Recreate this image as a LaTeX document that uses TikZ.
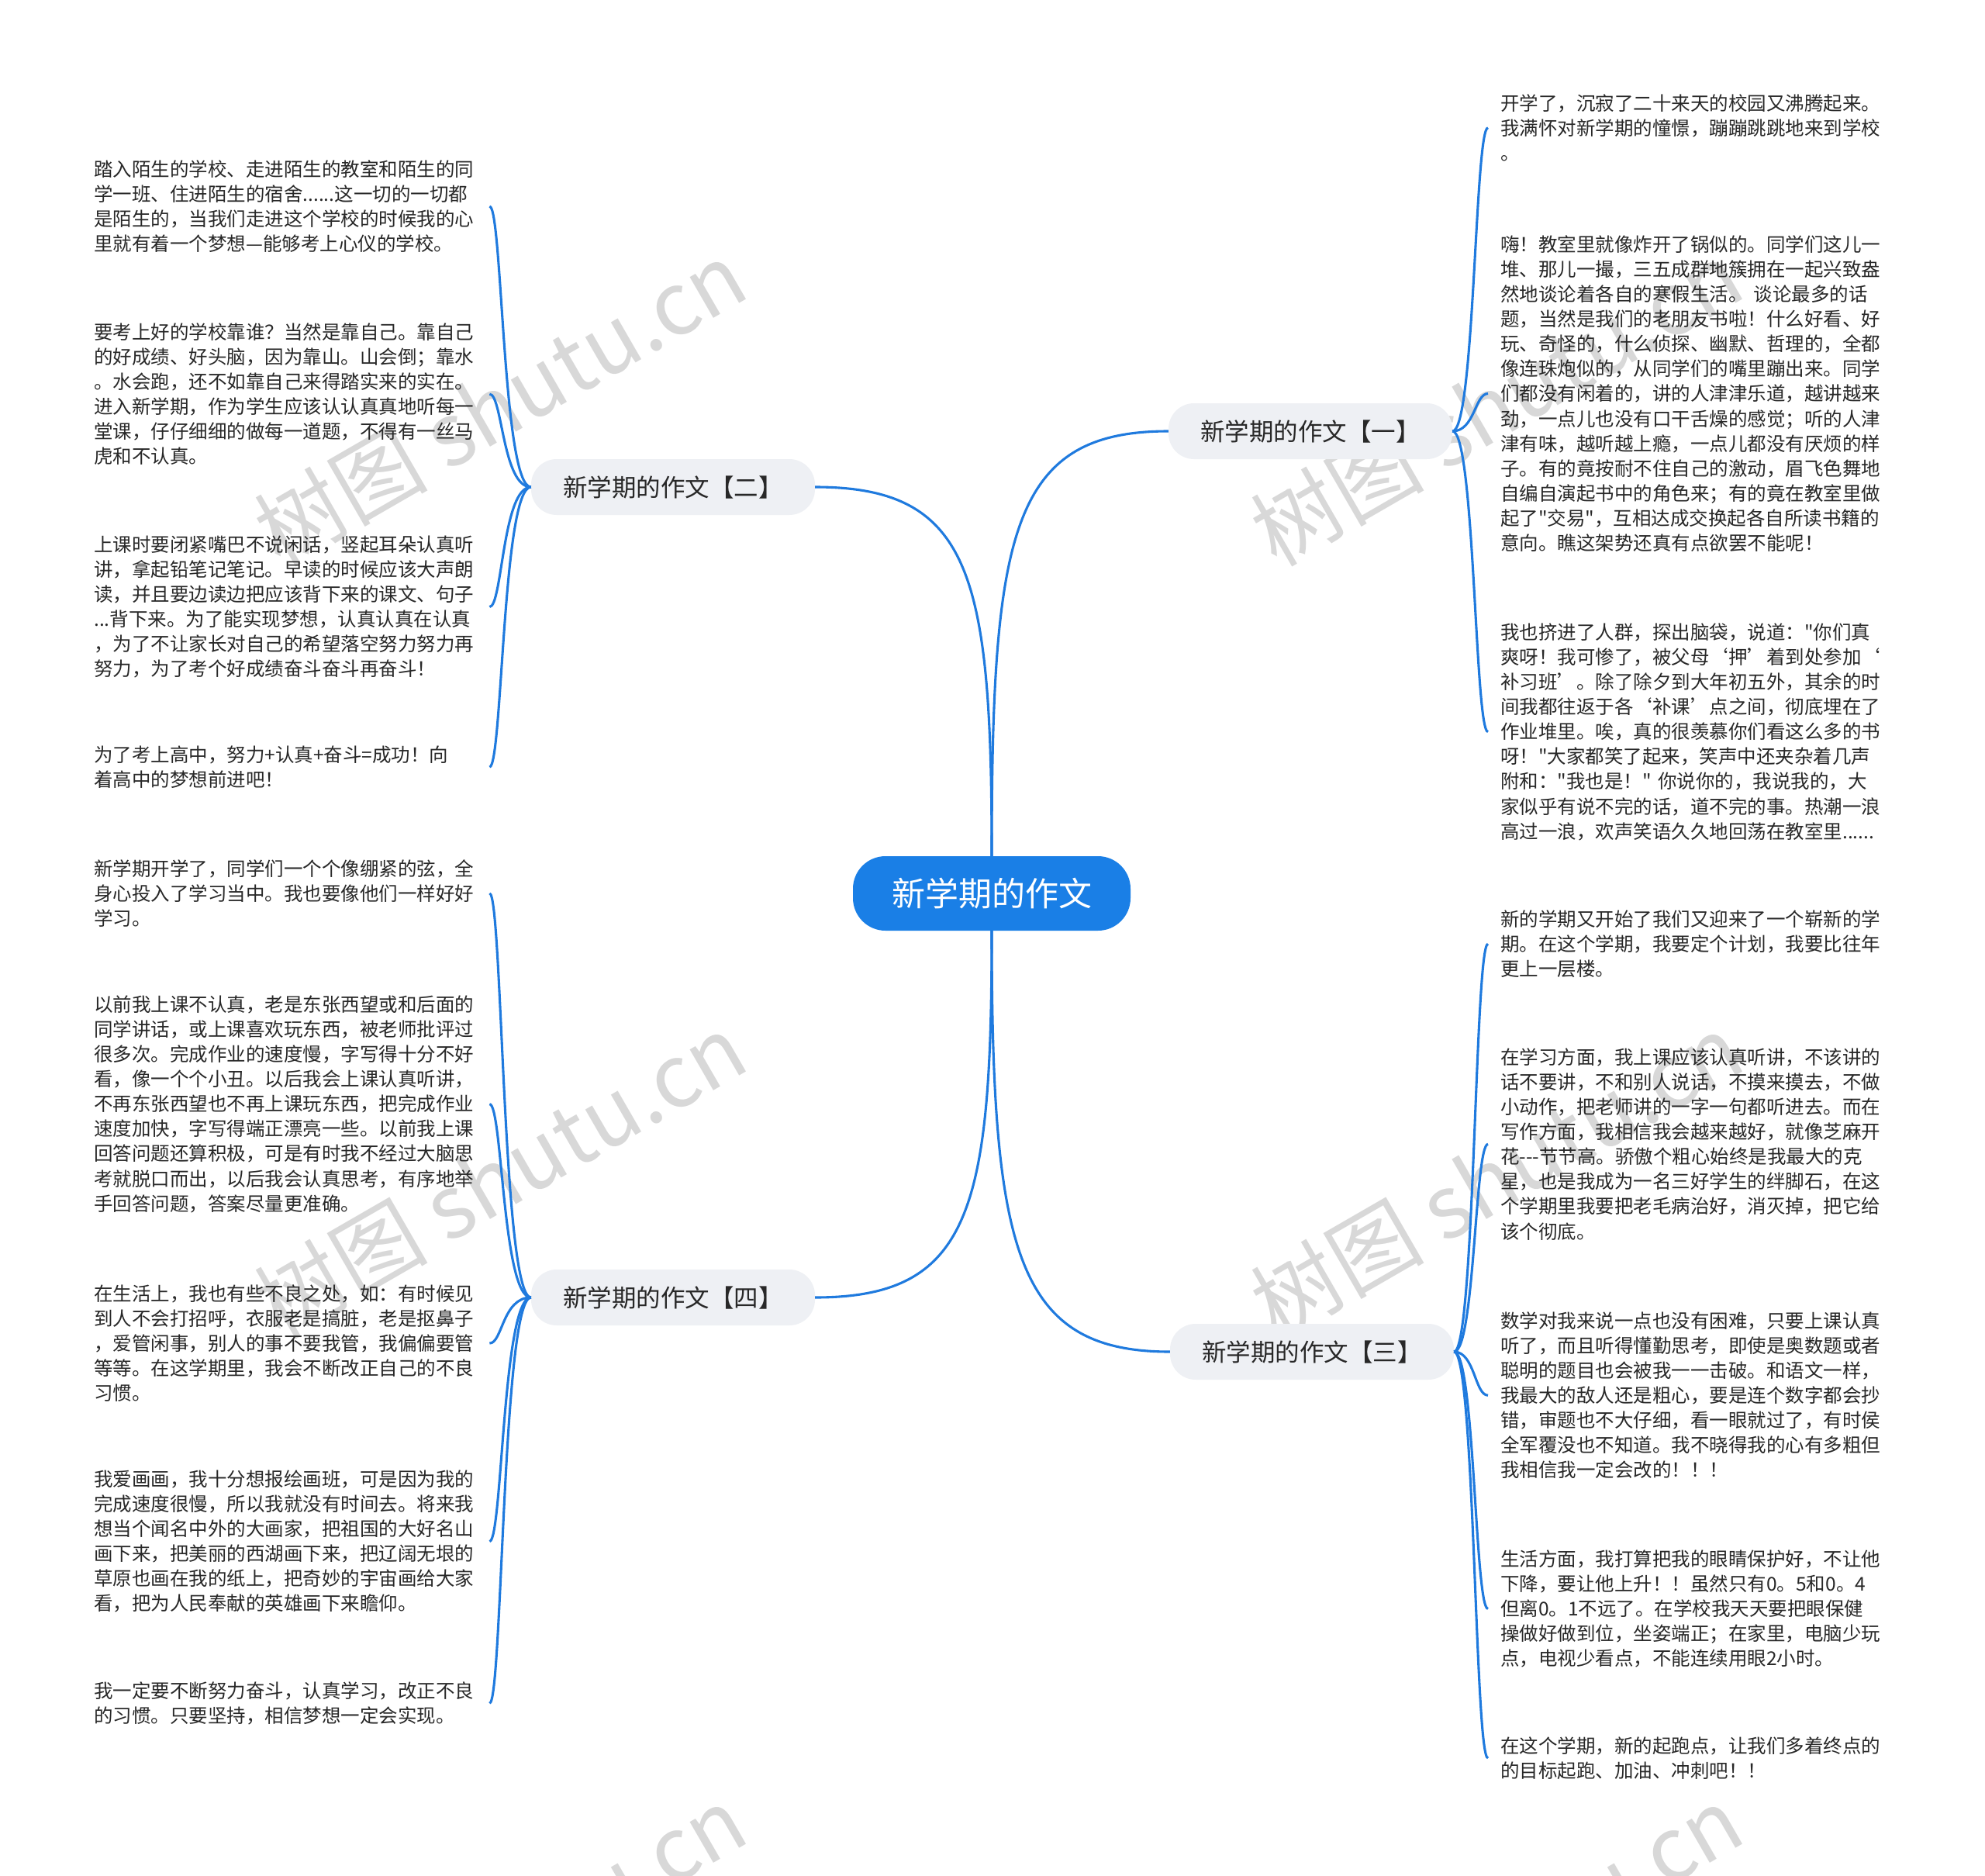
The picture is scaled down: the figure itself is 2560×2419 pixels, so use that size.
\documentclass[tikz,border=0pt]{standalone}
\usepackage{fontspec}
\newfontfamily\cjk{Noto Sans CJK SC}
\definecolor{mainblue}{RGB}{26,127,230}
\definecolor{linkblue}{RGB}{31,122,222}
\definecolor{branchfill}{RGB}{238,240,244}
\definecolor{txtc}{RGB}{40,40,40}
\definecolor{wmc}{RGB}{216,216,216}
\begin{document}
\begin{tikzpicture}[x=1pt,y=-1pt,
  rootbox/.style={rectangle, rounded corners=42pt, fill=mainblue, text=white, font=\cjk\fontsize{43pt}{50pt}\selectfont, minimum width=358pt, minimum height=96pt, inner sep=0pt},
  branchbox/.style={rectangle, rounded corners=33pt, fill=branchfill, text=txtc, font=\cjk\fontsize{31.5pt}{36pt}\selectfont, minimum width=366pt, minimum height=72pt, inner sep=0pt},
  leafbox/.style={inner sep=0pt, text=txtc, font=\cjk\fontsize{24.5pt}{32.1pt}\selectfont, align=left, anchor=base west},
  leafL/.style={leafbox, text width=490pt},
  leafR/.style={leafbox, text width=500pt},
  conn/.style={draw=linkblue, line width=3.1pt},
  wmark/.style={text=wmc, font=\cjk\fontsize{112pt}{120pt}\selectfont, rotate=30, inner sep=0pt}
]
\fill[white] (0,0) rectangle (2560,2419);
\useasboundingbox (0,0) rectangle (2560,2419);

% watermarks
\node[wmark] (W1) at (645,520) {树图 shutu.cn};
\node[wmark] (W2) at (645,1516) {树图 shutu.cn};
\node[wmark] (W3) at (1930,520) {树图 shutu.cn};
\node[wmark] (W4) at (1930,1516) {树图 shutu.cn};
\node[wmark] (W5) at (645,2512) {树图 shutu.cn};
\node[wmark] (W6) at (1930,2512) {树图 shutu.cn};

% central and branch nodes
\node[rootbox] (C) at (1279,1152) {新学期的作文};
\node[branchbox] (B1) at (1690,556) {新学期的作文【一】};
\node[branchbox] (B2) at (868,628) {新学期的作文【二】};
\node[branchbox] (B3) at (1692,1743) {新学期的作文【三】};
\node[branchbox] (B4) at (868,1673) {新学期的作文【四】};

% left leaves
\node[leafL] (L1) at (121,227.3) {踏入陌生的学校、走进陌生的教室和陌生的同\\
学一班、住进陌生的宿舍......这一切的一切都\\
是陌生的，当我们走进这个学校的时候我的心\\
里就有着一个梦想—能够考上心仪的学校。};
\node[leafL] (L2) at (121,437.3) {要考上好的学校靠谁？当然是靠自己。靠自己\\
的好成绩、好头脑，因为靠山。山会倒；靠水\\
。水会跑，还不如靠自己来得踏实来的实在。\\
进入新学期，作为学生应该认认真真地听每一\\
堂课，仔仔细细的做每一道题，不得有一丝马\\
虎和不认真。};
\node[leafL] (L3) at (121,711.3) {上课时要闭紧嘴巴不说闲话，竖起耳朵认真听\\
讲，拿起铅笔记笔记。早读的时候应该大声朗\\
读，并且要边读边把应该背下来的课文、句子\\
...背下来。为了能实现梦想，认真认真在认真\\
，为了不让家长对自己的希望落空努力努力再\\
努力，为了考个好成绩奋斗奋斗再奋斗！};
\node[leafL] (L4) at (121,982.3) {为了考上高中，努力+认真+奋斗=成功！向\\
着高中的梦想前进吧！};
\node[leafL] (L5) at (121,1129.3) {新学期开学了，同学们一个个像绷紧的弦，全\\
身心投入了学习当中。我也要像他们一样好好\\
学习。};
\node[leafL] (L6) at (121,1304.3) {以前我上课不认真，老是东张西望或和后面的\\
同学讲话，或上课喜欢玩东西，被老师批评过\\
很多次。完成作业的速度慢，字写得十分不好\\
看，像一个个小丑。以后我会上课认真听讲，\\
不再东张西望也不再上课玩东西，把完成作业\\
速度加快，字写得端正漂亮一些。以前我上课\\
回答问题还算积极，可是有时我不经过大脑思\\
考就脱口而出，以后我会认真思考，有序地举\\
手回答问题，答案尽量更准确。};
\node[leafL] (L7) at (121,1677.3) {在生活上，我也有些不良之处，如：有时候见\\
到人不会打招呼，衣服老是搞脏，老是抠鼻子\\
，爱管闲事，别人的事不要我管，我偏偏要管\\
等等。在这学期里，我会不断改正自己的不良\\
习惯。};
\node[leafL] (L8) at (121,1916.3) {我爱画画，我十分想报绘画班，可是因为我的\\
完成速度很慢，所以我就没有时间去。将来我\\
想当个闻名中外的大画家，把祖国的大好名山\\
画下来，把美丽的西湖画下来，把辽阔无垠的\\
草原也画在我的纸上，把奇妙的宇宙画给大家\\
看，把为人民奉献的英雄画下来瞻仰。};
\node[leafL] (L9) at (121,2189.3) {我一定要不断努力奋斗，认真学习，改正不良\\
的习惯。只要坚持，相信梦想一定会实现。};

% right leaves
\node[leafR] (R1) at (1935,142.3) {开学了，沉寂了二十来天的校园又沸腾起来。\\
我满怀对新学期的憧憬，蹦蹦跳跳地来到学校\\
。};
\node[leafR] (R2) at (1935,324.3) {嗨！教室里就像炸开了锅似的。同学们这儿一\\
堆、那儿一撮，三五成群地簇拥在一起兴致盎\\
然地谈论着各自的寒假生活。 谈论最多的话\\
题，当然是我们的老朋友书啦！什么好看、好\\
玩、奇怪的，什么侦探、幽默、哲理的，全都\\
像连珠炮似的，从同学们的嘴里蹦出来。同学\\
们都没有闲着的，讲的人津津乐道，越讲越来\\
劲，一点儿也没有口干舌燥的感觉；听的人津\\
津有味，越听越上瘾，一点儿都没有厌烦的样\\
子。有的竟按耐不住自己的激动，眉飞色舞地\\
自编自演起书中的角色来；有的竟在教室里做\\
起了"交易"，互相达成交换起各自所读书籍的\\
意向。瞧这架势还真有点欲罢不能呢！};
\node[leafR] (R3) at (1935,824.3) {我也挤进了人群，探出脑袋，说道："你们真\\
爽呀！我可惨了，被父母‘押’着到处参加‘\\
补习班’。除了除夕到大年初五外，其余的时\\
间我都往返于各‘补课’点之间，彻底埋在了\\
作业堆里。唉，真的很羡慕你们看这么多的书\\
呀！"大家都笑了起来，笑声中还夹杂着几声\\
附和："我也是！" 你说你的，我说我的，大\\
家似乎有说不完的话，道不完的事。热潮一浪\\
高过一浪，欢声笑语久久地回荡在教室里......};
\node[leafR] (R4) at (1935,1194.3) {新的学期又开始了我们又迎来了一个崭新的学\\
期。在这个学期，我要定个计划，我要比往年\\
更上一层楼。};
\node[leafR] (R5) at (1935,1372.3) {在学习方面，我上课应该认真听讲，不该讲的\\
话不要讲，不和别人说话，不摸来摸去，不做\\
小动作，把老师讲的一字一句都听进去。而在\\
写作方面，我相信我会越来越好，就像芝麻开\\
花-{}-{}-节节高。骄傲个粗心始终是我最大的克\\
星，也是我成为一名三好学生的绊脚石，在这\\
个学期里我要把老毛病治好，消灭掉，把它给\\
该个彻底。};
\node[leafR] (R6) at (1935,1712.3) {数学对我来说一点也没有困难，只要上课认真\\
听了，而且听得懂勤思考，即使是奥数题或者\\
聪明的题目也会被我一一击破。和语文一样，\\
我最大的敌人还是粗心，要是连个数字都会抄\\
错，审题也不大仔细，看一眼就过了，有时侯\\
全军覆没也不知道。我不晓得我的心有多粗但\\
我相信我一定会改的！！！};
\node[leafR] (R7) at (1935,2019.3) {生活方面，我打算把我的眼睛保护好，不让他\\
下降，要让他上升！！虽然只有0。5和0。4\\
但离0。1不远了。在学校我天天要把眼保健\\
操做好做到位，坐姿端正；在家里，电脑少玩\\
点，电视少看点，不能连续用眼2小时。};
\node[leafR] (R8) at (1935,2260.3) {在这个学期，新的起跑点，让我们多着终点的\\
的目标起跑、加油、冲刺吧！！};

% central connectors
\draw[conn] (C.north) .. controls ([yshift=418pt]C.north) and ([xshift=-203pt]B1.west) .. (B1.west);
\draw[conn] (C.north) .. controls ([yshift=362pt]C.north) and ([xshift=202pt]B2.east) .. (B2.east);
\draw[conn] (C.south) .. controls ([yshift=-413pt]C.south) and ([xshift=-199pt]B3.west) .. (B3.west);
\draw[conn] (C.south) .. controls ([yshift=-360pt]C.south) and ([xshift=201pt]B4.east) .. (B4.east);

% bracket connectors
\coordinate (rbx) at (1902,0);
\coordinate (lbx) at (648,0);
\foreach \l in {R1,R2,R3}
  \draw[conn] (B1.east) .. controls (rbx |- B1.east) and (rbx |- \l.west) .. ([xshift=-16pt]\l.west);
\foreach \l in {R4,R5,R6,R7,R8}
  \draw[conn] (B3.east) .. controls (rbx |- B3.east) and (rbx |- \l.west) .. ([xshift=-16pt]\l.west);
\foreach \l in {L1,L2,L3,L4}
  \draw[conn] (B2.west) .. controls (lbx |- B2.west) and (lbx |- \l.east) .. ([xshift=20pt]\l.east);
\foreach \l in {L5,L6,L7,L8,L9}
  \draw[conn] (B4.west) .. controls (lbx |- B4.west) and (lbx |- \l.east) .. ([xshift=20pt]\l.east);
\end{tikzpicture}
\end{document}
